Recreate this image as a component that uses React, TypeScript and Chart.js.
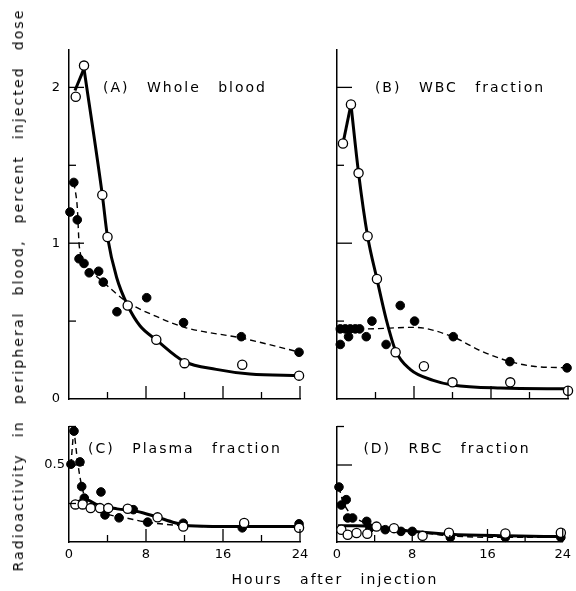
import React, { useEffect, useRef } from "react";
import { Chart, registerables } from "chart.js";
Chart.register(...registerables);

// ---------- Panel A: Whole blood ----------
const aOpenHours = [0.7, 1.56, 3.46, 4.0, 6.1, 9.07, 12.0, 18.0, 23.9];
const aOpenValues = [1.94, 2.14, 1.31, 1.04, 0.6, 0.38, 0.23, 0.22, 0.15];
const aFilledHours = [0.1, 0.5, 0.86, 1.04, 1.56, 2.1, 3.08, 3.56, 4.98, 8.07, 11.9, 17.9, 23.9];
const aFilledValues = [1.2, 1.39, 1.15, 0.9, 0.87, 0.81, 0.82, 0.75, 0.56, 0.65, 0.49, 0.4, 0.3];
const aSolidRiseHours = [0.62, 1.56];
const aSolidRiseValues = [1.98, 2.12];
const aSolidFallHours = [1.56, 3.46, 4.0, 4.95, 6.1, 7.37, 9.07, 12, 15.3, 18.8, 24];
const aSolidFallValues = [2.12, 1.31, 1.04, 0.78, 0.6, 0.47, 0.38, 0.24, 0.19, 0.16, 0.15];
const aDashHours = [0.5, 0.86, 1.07, 1.84, 3.56, 6.1, 9.07, 12, 18, 24];
const aDashValues = [1.39, 1.23, 0.98, 0.85, 0.75, 0.62, 0.53, 0.46, 0.39, 0.3];

// ---------- Panel B: WBC fraction ----------
const bOpenHours = [0.62, 1.45, 2.24, 3.18, 4.15, 6.09, 9.03, 12.0, 18.0, 24.0];
const bOpenValues = [1.64, 1.89, 1.45, 1.045, 0.77, 0.3, 0.21, 0.107, 0.107, 0.053];
const bFilledHours = [0.34, 0.34, 0.86, 1.2, 1.38, 1.9, 2.35, 3.04, 3.63, 5.1, 6.57, 8.06, 12.08, 17.96, 23.9];
const bFilledValues = [0.35, 0.45, 0.45, 0.4, 0.45, 0.45, 0.45, 0.4, 0.5, 0.35, 0.6, 0.5, 0.4, 0.24, 0.2];
const bSolidRiseHours = [0.62, 1.45];
const bSolidRiseValues = [1.64, 1.89];
const bSolidFallHours = [1.45, 2.24, 3.18, 4.15, 5.12, 6.09, 7.6, 10, 12, 17, 24];
const bSolidFallValues = [1.89, 1.45, 1.045, 0.77, 0.51, 0.31, 0.19, 0.12, 0.09, 0.07, 0.065];
const bDashHours = [0.1, 3, 8, 12, 14.9, 18, 20.4, 24];
const bDashValues = [0.45, 0.45, 0.46, 0.4, 0.31, 0.24, 0.21, 0.2];

// ---------- Panel C: Plasma fraction ----------
const cOpenHours = [0.66, 1.42, 2.25, 3.22, 4.08, 6.1, 9.2, 11.87, 18.2, 23.9];
const cOpenValues = [0.244, 0.244, 0.22, 0.22, 0.22, 0.216, 0.16, 0.1, 0.124, 0.092];
const cFilledHours = [0.2, 0.52, 1.14, 1.32, 1.59, 3.32, 3.74, 5.2, 6.68, 8.17, 11.87, 18.0, 23.9];
const cFilledValues = [0.505, 0.72, 0.52, 0.36, 0.285, 0.325, 0.176, 0.157, 0.21, 0.129, 0.122, 0.092, 0.118];
const cSolidHours = [0.66, 1.6, 3, 5, 7, 9, 11, 12.5, 16, 24];
const cSolidValues = [0.25, 0.28, 0.24, 0.215, 0.2, 0.165, 0.125, 0.105, 0.1, 0.1];
const cDashRiseHours = [0.2, 0.5];
const cDashRiseValues = [0.5, 0.74];
const cDashFallHours = [0.5, 0.9, 1.3, 1.8, 3, 4, 6, 8, 10, 12, 16, 24];
const cDashFallValues = [0.74, 0.52, 0.37, 0.27, 0.21, 0.18, 0.155, 0.13, 0.115, 0.105, 0.1, 0.1];

// ---------- Panel D: RBC fraction ----------
const dOpenHours = [0.46, 1.14, 2.08, 3.22, 4.2, 6.06, 9.1, 11.9, 17.9, 23.8];
const dOpenValues = [0.08, 0.047, 0.058, 0.054, 0.1, 0.09, 0.04, 0.06, 0.055, 0.06];
const dFilledHours = [0.21, 0.46, 0.98, 1.14, 1.66, 3.16, 3.5, 5.13, 6.8, 8.0, 12.05, 17.9, 23.8];
const dFilledValues = [0.357, 0.24, 0.275, 0.156, 0.156, 0.134, 0.09, 0.08, 0.069, 0.069, 0.03, 0.03, 0.03];
const dSolidHours = [0.1, 2, 4, 6, 8, 12, 18, 24];
const dSolidValues = [0.105, 0.105, 0.1, 0.085, 0.07, 0.05, 0.04, 0.035];
const dDashHours = [0.21, 0.6, 1.2, 2, 3.5, 5, 8, 12, 18, 24];
const dDashValues = [0.357, 0.27, 0.2, 0.155, 0.115, 0.09, 0.07, 0.04, 0.03, 0.03];

// ---------- Axes ----------
const xLabelTicks = [0, 8, 16, 24];
const xMajorTicks = [8, 16, 24];
const xMinorTicks = [4, 12, 20];
const topYLabelTicks = [0, 1, 2];
const topYMajorTicks = [1, 2];
const topYMinorTicks = [0.5, 1.5];
const bottomYLabelTicks = [0.5];
const bottomYMajorTicks = [0.5];
const bottomYMinorTicks = [0.25, 0.75];

const W = 576;
const H = 591;
const FONT = '"DejaVu Sans", "Liberation Sans", sans-serif';

type Pt = { x: number; y: number };
const zip = (xs: number[], ys: number[]): Pt[] => xs.map((x, i) => ({ x, y: ys[i] }));

const innerTicks = {
  id: "innerTicks",
  afterDraw(chart: any, _args: any, opts: any) {
    const { ctx } = chart;
    const xs = chart.scales.x;
    const ys = chart.scales.y;
    ctx.save();
    ctx.strokeStyle = "#000";
    ctx.lineWidth = 1.3;
    const drawX = (vals: number[], len: number) => {
      for (const v of vals) {
        const px = xs.getPixelForValue(v);
        ctx.beginPath();
        ctx.moveTo(px, ys.bottom);
        ctx.lineTo(px, ys.bottom - len);
        ctx.stroke();
      }
    };
    const drawY = (vals: number[], len: number) => {
      for (const v of vals) {
        const py = ys.getPixelForValue(v);
        ctx.beginPath();
        ctx.moveTo(xs.left, py);
        ctx.lineTo(xs.left + len, py);
        ctx.stroke();
      }
    };
    drawX(opts.xMajor, 13);
    drawX(opts.xMinor, 7);
    drawY(opts.yMajor, 15);
    drawY(opts.yMinor, 7);
    ctx.restore();
  },
};

type PanelSpec = {
  open: Pt[];
  filled: Pt[];
  solid: Pt[][];
  dash: Pt[][];
  left: number;
  right: number;
  top: number;
  bottom: number;
  yMax: number;
  yLabels: number[];
  yLabelPad: number;
  yMajor: number[];
  yMinor: number[];
  xLabels: boolean;
};

const Y_W = 40;
const X_H = 26;

function makeConfig(p: PanelSpec): any {
  const solidSets = p.solid.map((seg) => ({
    data: seg,
    showLine: true,
    pointRadius: 0,
    borderColor: "#000",
    borderWidth: 3,
    cubicInterpolationMode: "monotone",
    clip: false,
    order: 2,
  }));
  const dashSets = p.dash.map((seg) => ({
    data: seg,
    showLine: true,
    pointRadius: 0,
    borderColor: "#000",
    borderWidth: 1.4,
    borderDash: [6, 4],
    cubicInterpolationMode: "monotone",
    clip: false,
    order: 3,
  }));
  return {
    type: "scatter",
    data: {
      datasets: [
        {
          data: p.open,
          showLine: false,
          pointRadius: 4.6,
          pointBackgroundColor: "#fff",
          pointBorderColor: "#000",
          pointBorderWidth: 1.3,
          clip: false,
          order: 0,
        },
        {
          data: p.filled,
          showLine: false,
          pointRadius: 4.3,
          pointBackgroundColor: "#000",
          pointBorderColor: "#000",
          pointBorderWidth: 1,
          clip: false,
          order: 1,
        },
        ...solidSets,
        ...dashSets,
      ],
    },
    options: {
      responsive: false,
      animation: false,
      events: [],
      layout: {
        padding: {
          left: p.left - Y_W,
          right: W - p.right,
          top: p.top,
          bottom: H - p.bottom - X_H,
        },
      },
      plugins: {
        legend: { display: false },
        tooltip: { enabled: false },
        innerTicks: {
          xMajor: xMajorTicks,
          xMinor: xMinorTicks,
          yMajor: p.yMajor,
          yMinor: p.yMinor,
        },
      },
      scales: {
        x: {
          type: "linear",
          min: 0,
          max: 24,
          grid: { display: false, drawTicks: false },
          border: { display: true, color: "#000", width: 1.5 },
          ticks: {
            display: p.xLabels,
            padding: 5,
            color: "#000",
            font: { family: FONT, size: 13 },
            callback: (v: any) => String(v),
          },
          afterBuildTicks: (s: any) => {
            s.ticks = xLabelTicks.map((v) => ({ value: v }));
          },
          afterFit: (s: any) => {
            s.height = X_H;
          },
        },
        y: {
          type: "linear",
          min: 0,
          max: p.yMax,
          grid: { display: false, drawTicks: false },
          border: { display: true, color: "#000", width: 1.5 },
          ticks: {
            display: p.yLabels.length > 0,
            padding: p.yLabelPad,
            color: "#000",
            font: { family: FONT, size: 13 },
            callback: (v: any) => String(v),
          },
          afterBuildTicks: (s: any) => {
            s.ticks = (p.yLabels.length ? p.yLabels : [0]).map((v) => ({ value: v }));
          },
          afterFit: (s: any) => {
            s.width = Y_W;
          },
        },
      },
    },
    plugins: [innerTicks],
  };
}

const panels: PanelSpec[] = [
  {
    open: zip(aOpenHours, aOpenValues),
    filled: zip(aFilledHours, aFilledValues),
    solid: [zip(aSolidRiseHours, aSolidRiseValues), zip(aSolidFallHours, aSolidFallValues)],
    dash: [zip(aDashHours, aDashValues)],
    left: 69, right: 300, top: 50, bottom: 399,
    yMax: 2.24, yLabels: topYLabelTicks, yLabelPad: 9,
    yMajor: topYMajorTicks, yMinor: topYMinorTicks, xLabels: false,
  },
  {
    open: zip(bOpenHours, bOpenValues),
    filled: zip(bFilledHours, bFilledValues),
    solid: [zip(bSolidRiseHours, bSolidRiseValues), zip(bSolidFallHours, bSolidFallValues)],
    dash: [zip(bDashHours, bDashValues)],
    left: 337, right: 568, top: 50, bottom: 399,
    yMax: 2.24, yLabels: [], yLabelPad: 9,
    yMajor: topYMajorTicks, yMinor: topYMinorTicks, xLabels: false,
  },
  {
    open: zip(cOpenHours, cOpenValues),
    filled: zip(cFilledHours, cFilledValues),
    solid: [zip(cSolidHours, cSolidValues)],
    dash: [zip(cDashRiseHours, cDashRiseValues), zip(cDashFallHours, cDashFallValues)],
    left: 69, right: 300, top: 426.5, bottom: 542,
    yMax: 0.75, yLabels: bottomYLabelTicks, yLabelPad: 4,
    yMajor: bottomYMajorTicks, yMinor: bottomYMinorTicks, xLabels: true,
  },
  {
    open: zip(dOpenHours, dOpenValues),
    filled: zip(dFilledHours, dFilledValues),
    solid: [zip(dSolidHours, dSolidValues)],
    dash: [zip(dDashHours, dDashValues)],
    left: 337, right: 568, top: 426.5, bottom: 542,
    yMax: 0.75, yLabels: [], yLabelPad: 4,
    yMajor: bottomYMajorTicks, yMinor: bottomYMinorTicks, xLabels: true,
  },
];

function Panel({ spec }: { spec: PanelSpec }) {
  const ref = useRef<HTMLCanvasElement | null>(null);
  useEffect(() => {
    if (!ref.current) return;
    const chart = new Chart(ref.current, makeConfig(spec));
    return () => chart.destroy();
  }, [spec]);
  return (
    <canvas
      ref={ref}
      width={W}
      height={H}
      style={{ position: "absolute", left: 0, top: 0, width: W, height: H }}
    />
  );
}

function Label({
  x, y, text, rotate, ls, ws,
}: { x: number; y: number; text: string; rotate?: boolean; ls: number; ws: number }) {
  return (
    <div
      style={{
        position: "absolute",
        fontFamily: FONT,
        fontSize: 14,
        letterSpacing: `${ls}px`,
        wordSpacing: `${ws}px`,
        whiteSpace: "nowrap",
        lineHeight: 1,
        color: "#000",
        left: x,
        top: y,
        transform: `translate(-50%, -50%)${rotate ? " rotate(-90deg)" : ""}`,
      }}
    >
      {text}
    </div>
  );
}

export default function App() {
  return (
    <div style={{ position: "absolute", left: 0, top: 0, width: W, height: H, background: "#fff", overflow: "hidden" }}>
      {panels.map((p, i) => (
        <Panel key={i} spec={p} />
      ))}
      <Label x={185} y={87} text="(A) Whole blood" ls={2} ws={11} />
      <Label x={460} y={87} text="(B) WBC fraction" ls={2} ws={11} />
      <Label x={185} y={448} text="(C) Plasma fraction" ls={2} ws={11} />
      <Label x={447} y={448} text="(D) RBC fraction" ls={2} ws={11} />
      <Label x={335} y={579} text="Hours after injection" ls={2} ws={11} />
      <Label x={18} y={290} text="Radioactivity in peripheral blood, percent injected dose" rotate ls={2.1} ws={9.5} />
    </div>
  );
}
